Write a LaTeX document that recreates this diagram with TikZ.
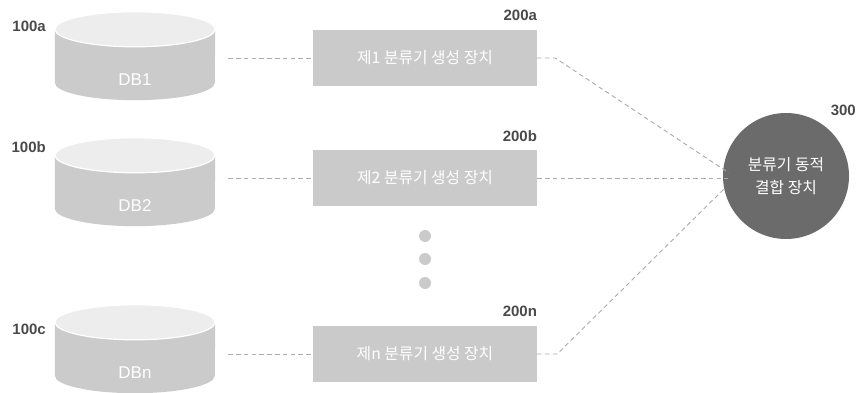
\documentclass[tikz,border=0pt]{standalone}
\usepackage{fontspec}
\setmainfont{Liberation Sans}
\newfontfamily\krfont{Noto Sans CJK KR}
\usetikzlibrary{calc,positioning}
\definecolor{DiskBody}{HTML}{CBCBCB}
\definecolor{DiskTop}{HTML}{EDEDED}
\definecolor{UnitGray}{HTML}{CACACA}
\definecolor{HubGray}{HTML}{6B6B6B}
\definecolor{TagGray}{HTML}{4A4A4A}
\definecolor{LinkGray}{HTML}{ABABAB}

\tikzset{
  unitbox/.style={fill=UnitGray,minimum width=224pt,minimum height=56pt,inner sep=0pt,
    text=white,font=\krfont\fontsize{15.8}{18}\selectfont},
  tag/.style={anchor=east,inner sep=0pt,text=TagGray,font=\bfseries\fontsize{15}{18}\selectfont},
  link/.style={draw=LinkGray,line width=0.9pt,dash pattern=on 4.5pt off 3.3pt},
  diskarea/.style={minimum width=160pt,minimum height=88pt,inner sep=0pt}
}

\begin{document}
\begin{tikzpicture}[x=1pt,y=-1pt]
  \useasboundingbox (0,0) rectangle (868,393);
  % data bases
  \foreach \n/\y/\db/\dtag/\ty in {a/56/DB1/100a/26,b/182/DB2/100b/147,n/349/DBn/100c/329}{
    \node[diskarea] (db\n) at (135,\y) {};
    \fill[DiskBody] ($(db\n.north west)+(0,17.5)$) -- ($(db\n.south west)+(0,-17.5)$)
      arc[start angle=180,end angle=0,x radius=80,y radius=17.5]
      -- ($(db\n.north east)+(0,17.5)$) -- cycle;
    \filldraw[fill=DiskTop,draw=white,line width=1.2pt] ($(db\n.north)+(0,17.5)$)
      ellipse[x radius=80,y radius=17.5];
    \node[inner sep=0pt,text=white,font=\fontsize{17}{20}\selectfont] (dbtxt\n)
      at ($(db\n.south)+(0,-21)$) {\db};
    \node[tag] (dbtag\n) at (46,\ty) {\dtag};
  }
  % generators
  \foreach \n/\uy/\num/\utag in {a/58/1/200a,b/178/2/200b,n/354/n/200n}{
    \node[unitbox] (unit\n) at (425,\uy) {제\num{} 분류기 생성 장치};
    \node[tag] (unittag\n) at ($(unit\n.north east)+(0,-14)$) {\utag};
    \draw[link,shorten <=13pt] (db\n.east |- unit\n.west) -- (unit\n.west);
  }
  \foreach \y in {236,259,283}
    \fill[UnitGray] (425,\y) circle[radius=6];
  % combiner
  \node[circle,fill=HubGray,minimum size=126pt,inner sep=0pt,text=white,align=center,
    font=\krfont\fontsize{15.8}{23}\selectfont] (hub) at (786,176) {분류기 동적\\결합 장치};
  \node[tag] (hubtag) at (856,110) {300};
  \coordinate (tipa) at (729,173);
  \coordinate (tipb) at (728,178);
  \coordinate (tipn) at (725,188);
  \draw[link] (unita.east) -- ++(18,0) -- (tipa);
  \draw[link] (unitb.east) -- (tipb);
  \draw[link] (unitn.east) -- ++(20,0) -- (tipn);
\end{tikzpicture}
\end{document}
